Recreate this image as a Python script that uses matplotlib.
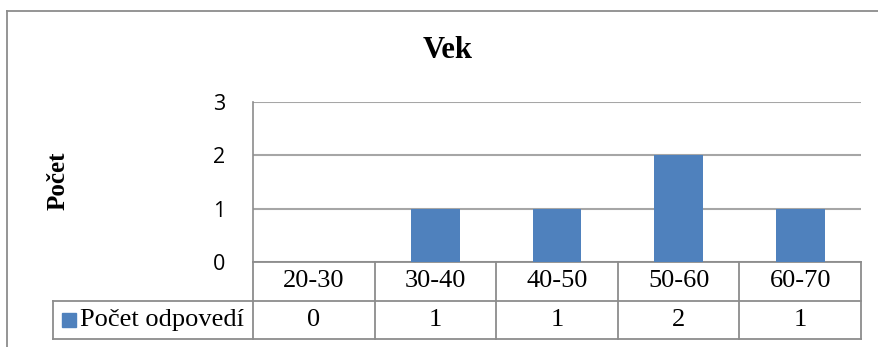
import matplotlib.pyplot as plt
from matplotlib.transforms import blended_transform_factory
from matplotlib.lines import Line2D

# age groups and number of answers per group
age_groups = ['20-30', '30-40', '40-50', '50-60', '60-70']
counts = [0, 1, 1, 2, 1]
series_name = 'Počet odpovedí'
chart_title = 'Vek'
y_label = 'Počet'
y_ticks = [0, 1, 2, 3]

bar_color = '#4F81BD'
grid_color = '#A6A6A6'
table_color = '#8C8C8C'
serif = 'Liberation Serif'

W, H = 879, 347
fig = plt.figure(figsize=(W / 100, H / 100), dpi=100)
ax = fig.add_axes([253 / W, 1 - 262 / H, (861 - 253) / W, (262 - 102) / H])

xs = list(range(len(age_groups)))
ax.bar(xs, counts, width=0.4, color=bar_color, zorder=3)
ax.set_xlim(-0.5, len(age_groups) - 0.5)
ax.set_ylim(y_ticks[0], y_ticks[-1])
ax.set_yticks(y_ticks)
ax.set_xticks([])
ax.yaxis.grid(True, color=grid_color, lw=1.5)
ax.set_axisbelow(True)
for side in ['top', 'right', 'bottom']:
    ax.spines[side].set_visible(False)
ax.spines['left'].set_color(table_color)
ax.spines['left'].set_linewidth(1.2)
ax.tick_params(axis='y', length=0, pad=20, labelsize=15.5,
               labelfontfamily='Open Sans')

# data table under the plot area
trans = blended_transform_factory(ax.transData, ax.transAxes)
row_h = 38.5 / 160
label_w = 1.645
left = -0.5 - label_w
right = len(age_groups) - 0.5
lines = [
    ([-0.5, right], [0, 0]),
    ([left, right], [-row_h, -row_h]),
    ([left, right], [-2 * row_h, -2 * row_h]),
    ([left, left], [-row_h, -2 * row_h]),
]
for i in range(len(age_groups) + 1):
    lines.append(([i - 0.5, i - 0.5], [0, -2 * row_h]))
for lx, ly in lines:
    ax.plot(lx, ly, color=table_color, lw=1.3, transform=trans, clip_on=False,
            solid_capstyle='projecting')

for i, (grp, val) in enumerate(zip(age_groups, counts)):
    ax.text(i, -row_h / 2, grp, transform=trans, ha='center', va='center',
            fontsize=19, family=serif)
    ax.text(i, -1.5 * row_h, str(val), transform=trans, ha='center', va='center',
            fontsize=19, family=serif)

ax.plot([left + 0.13], [-1.5 * row_h], marker='s', markersize=10, color=bar_color,
        transform=trans, clip_on=False, linestyle='none')
ax.text(left + 0.22, -1.5 * row_h, series_name, transform=trans, ha='left',
        va='center', fontsize=19, family=serif)

fig.text(448 / W, 1 - 50 / H, chart_title, ha='center', va='center',
         fontsize=22, fontweight='bold', family=serif)
fig.text(58 / W, 1 - 181 / H, y_label, ha='center', va='center', rotation=90,
         fontsize=18, fontweight='bold', family=serif)

# chart frame
fig.add_artist(Line2D([7 / W, 7 / W], [0, 1 - 11 / H], color=table_color, lw=1.3))
fig.add_artist(Line2D([7 / W, 1], [1 - 11 / H, 1 - 11 / H], color=table_color, lw=1.3))

fig.savefig('out.png', dpi=100)
